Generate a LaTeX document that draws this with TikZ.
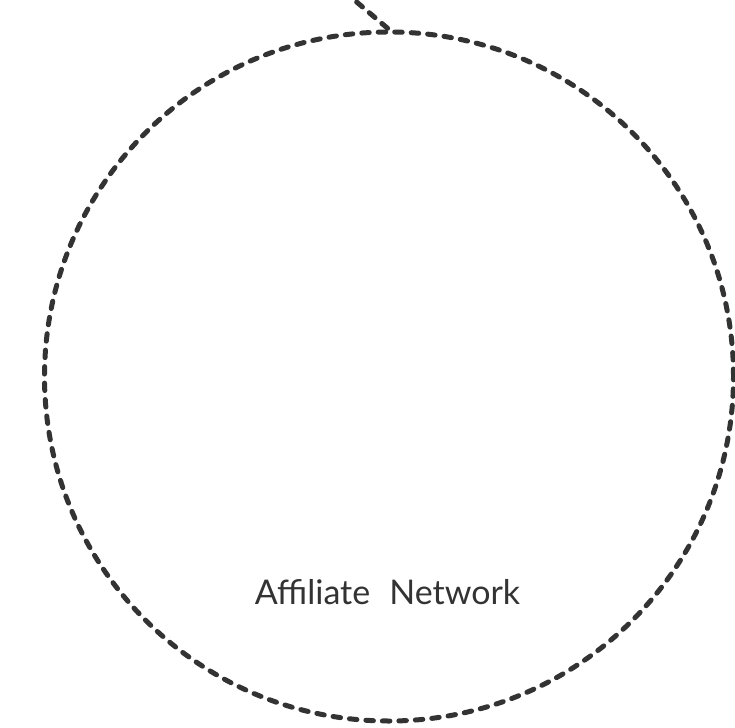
\documentclass[tikz,border=0pt]{standalone}
\usepackage{fontspec}
\setmainfont{Lato}
\definecolor{ink}{HTML}{333333}
\tikzset{
  dashline/.style={draw=ink, line width=5pt, line cap=round, dash pattern=on 7.5pt off 9pt},
  netcircle/.style={circle, dashline, minimum size=689pt, inner sep=0pt},
  lbl/.style={text=ink, font=\fontsize{34}{40}\selectfont, inner sep=0pt}
}
\begin{document}
\begin{tikzpicture}[x=1pt,y=1pt]
\useasboundingbox (0,0) rectangle (735,-727);
\clip (0,0) rectangle (735,-727);
\node[netcircle] (net) at (389,-376.5) {};
\coordinate (top) at (319,30);
\draw[dashline] (top) -- (net.north);
\node[lbl, anchor=base] (label) at (387.5,-604) {Affiliate\hspace{19pt}Network};
\end{tikzpicture}
\end{document}
